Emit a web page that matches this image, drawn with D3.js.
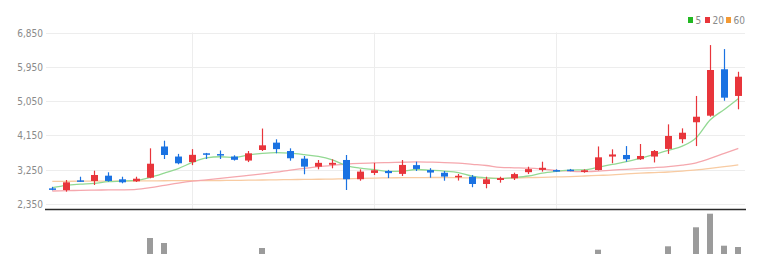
<!DOCTYPE html>
<html>
<head>
<meta charset="utf-8">
<script src="https://cdn.jsdelivr.net/npm/d3@7"></script>
<style>
  html, body { margin: 0; padding: 0; background: #fff; }
  svg { display: block; }
  .tick-label { font-family: "Liberation Sans Narrow", "DejaVu Sans Condensed", "Liberation Sans", sans-serif; font-size: 10px; fill: #8a8a8a; }
  .legend-label { font-family: "Liberation Sans Narrow", "DejaVu Sans Condensed", "Liberation Sans", sans-serif; font-size: 10px; fill: #8a8a8a; }
</style>
</head>
<body>
<svg id="chart" width="766" height="254"></svg>
<script>
// Trading sessions (index order)
const days = d3.range(1, 51);

// OHLC prices per session
const opens  = [2760,2717,2970,2954,3093,2998,2945,3040,3859,3595,3450,3680,3660,3595,3490,3767,3960,3740,3540,3330,
                3380,3505,3000,3165,3215,3140,3370,3240,3170,3075,3065,2875,2980,3025,3185,3245,3240,3250,3190,3242,
                3595,3636,3525,3595,3795,4050,4495,4667,5885,5185];
const highs  = [2800,2980,3066,3224,3182,3066,3066,3811,4011,3665,3790,3690,3754,3628,3740,4330,4048,3811,3610,3505,
                3523,3636,3260,3430,3245,3505,3460,3290,3216,3137,3110,3066,3066,3172,3329,3460,3260,3270,3260,3860,
                3785,3870,3925,3767,4440,4335,5185,6520,6415,5820];
const lows   = [2710,2673,2935,2849,2935,2893,2927,3024,3531,3392,3370,3530,3530,3490,3450,3740,3680,3486,3130,3260,
                3287,2717,2961,3110,3030,3085,3216,3040,2961,2965,2790,2762,2910,2980,3137,3200,3198,3210,3170,3230,
                3420,3460,3505,3440,3665,3945,3870,4640,5060,4835];
const closes = [2745,2919,2955,3111,2954,2919,3014,3407,3636,3418,3640,3660,3645,3510,3680,3890,3790,3550,3330,3430,
                3430,3000,3200,3235,3160,3375,3270,3175,3070,3090,2875,2998,3030,3135,3265,3300,3225,3235,3235,3575,
                3650,3525,3610,3740,4135,4220,4640,5866,5140,5690];

// Moving averages
const ma5  = [2778,2840,2870,2893,2935,2950,2970,3050,3160,3280,3440,3560,3590,3570,3640,3680,3700,3684,3645,3598,
              3506,3360,3290,3250,3205,3210,3255,3235,3212,3175,3080,3035,3018,3045,3085,3160,3205,3240,3248,3313,
              3390,3460,3550,3650,3760,3870,4090,4560,4830,5115];
const ma20 = [2691,2700,2708,2715,2718,2722,2735,2780,2840,2900,2950,2985,3025,3060,3100,3140,3185,3240,3285,3330,
              3365,3395,3415,3428,3438,3445,3455,3448,3438,3420,3390,3360,3310,3300,3290,3265,3230,3210,3198,3215,
              3240,3260,3285,3305,3330,3370,3430,3545,3680,3810];
const ma60 = [2945,2946,2948,2950,2952,2953,2955,2957,2960,2962,2963,2965,2967,2970,2975,2980,2985,2990,2995,3000,
              3005,3010,3020,3030,3035,3040,3042,3045,3045,3040,3035,3030,3025,3030,3040,3050,3060,3070,3085,3100,
              3115,3140,3160,3175,3190,3215,3245,3285,3330,3375];

// Volume (thousand shares)
const volumes = [420,610,380,720,450,330,400,2700,2450,980,1100,640,520,480,690,2200,1300,860,900,560,
                 470,1500,700,560,410,820,520,430,450,360,640,520,380,450,610,700,330,290,350,2115,
                 1400,1200,1100,1050,2285,1700,3235,3915,2315,2250];

// Axis ticks
const priceTicks = [2350, 3250, 4150, 5050, 5950, 6850];
const gridDays = [11, 24, 37];

// Legend entries
const legendItems = ["5", "20", "60"];
const legendColors = ["#22b822", "#e8353b", "#f39a35"];

const UP = "#e8353b", DOWN = "#1a72e2";

const svg = d3.select("#chart");

const x = d3.scaleBand().domain(days).range([45.3, 745.3]).paddingInner(0.5).paddingOuter(0.25);
const cx = d => x(d) + x.bandwidth() / 2;

const y = d3.scaleLinear().domain([2350, 6850]).range([204, 32.5]);
const yVol = d3.scaleLinear().domain([0, 4000]).range([292, 212]);

const plotLeft = 46, plotRight = 745, plotBottom = 209.5;

// Horizontal grid
svg.append("g").selectAll("line").data(priceTicks).join("line")
  .attr("x1", plotLeft).attr("x2", plotRight)
  .attr("y1", d => Math.round(y(d)) + 0.5).attr("y2", d => Math.round(y(d)) + 0.5)
  .attr("stroke", "#ededed").attr("stroke-width", 1);

// Vertical grid
svg.append("g").selectAll("line").data(gridDays).join("line")
  .attr("x1", d => Math.round(cx(d)) + 0.5).attr("x2", d => Math.round(cx(d)) + 0.5)
  .attr("y1", y(6850)).attr("y2", plotBottom)
  .attr("stroke", "#ededed").attr("stroke-width", 1);

// Price axis labels
const yAxis = d3.axisLeft(y).tickValues(priceTicks).tickFormat(d3.format(",")).tickSize(0).tickPadding(0);
const gAxis = svg.append("g").attr("transform", "translate(43,0)").call(yAxis);
gAxis.select(".domain").remove();
gAxis.selectAll("text").attr("class", "tick-label").attr("dy", "0.35em");

// Price pane base line
svg.append("line")
  .attr("x1", plotLeft - 1).attr("x2", plotRight + 1)
  .attr("y1", plotBottom).attr("y2", plotBottom)
  .attr("stroke", "#2a2a2a").attr("stroke-width", 1.6);

// Moving average lines
const maSeries = [
  { values: ma60, color: "#f8cba2" },
  { values: ma20, color: "#f5a7ad" },
  { values: ma5,  color: "#93d993" }
];
const line = d3.line().x((v, i) => cx(days[i])).y(v => y(v)).curve(d3.curveMonotoneX);
svg.append("g").selectAll("path").data(maSeries).join("path")
  .attr("d", s => line(s.values))
  .attr("fill", "none").attr("stroke", s => s.color).attr("stroke-width", 1.3);

// Candles
const candles = days.map((d, i) => ({ d, o: opens[i], h: highs[i], l: lows[i], c: closes[i] }));
const g = svg.append("g");
g.selectAll("line.wick").data(candles).join("line").attr("class", "wick")
  .attr("x1", c => Math.round(cx(c.d)) + 0.5).attr("x2", c => Math.round(cx(c.d)) + 0.5)
  .attr("y1", c => y(c.h)).attr("y2", c => y(c.l))
  .attr("stroke", c => c.c >= c.o ? UP : DOWN).attr("stroke-width", 1.2);
g.selectAll("rect.body").data(candles).join("rect").attr("class", "body")
  .attr("x", c => Math.round(cx(c.d)) - 3)
  .attr("width", 7)
  .attr("y", c => y(Math.max(c.o, c.c)))
  .attr("height", c => Math.max(1.5, Math.abs(y(c.o) - y(c.c))))
  .attr("fill", c => c.c >= c.o ? UP : DOWN);

// Volume bars
svg.append("g").selectAll("rect").data(volumes).join("rect")
  .attr("x", (v, i) => Math.round(cx(days[i])) - 3)
  .attr("width", 6)
  .attr("y", v => yVol(v))
  .attr("height", v => yVol(0) - yVol(v))
  .attr("fill", "#9b9b9b");

// Legend
const legend = svg.append("g").attr("transform", "translate(688,0)");
const offsets = [0, 17, 38];
legendItems.forEach((t, i) => {
  legend.append("rect").attr("x", offsets[i]).attr("y", 17).attr("width", 5).attr("height", 6).attr("fill", legendColors[i]);
  legend.append("text").attr("class", "legend-label").attr("x", offsets[i] + 7.5).attr("y", 20.5)
    .attr("dy", "0.35em").text(t);
});
</script>
</body>
</html>
